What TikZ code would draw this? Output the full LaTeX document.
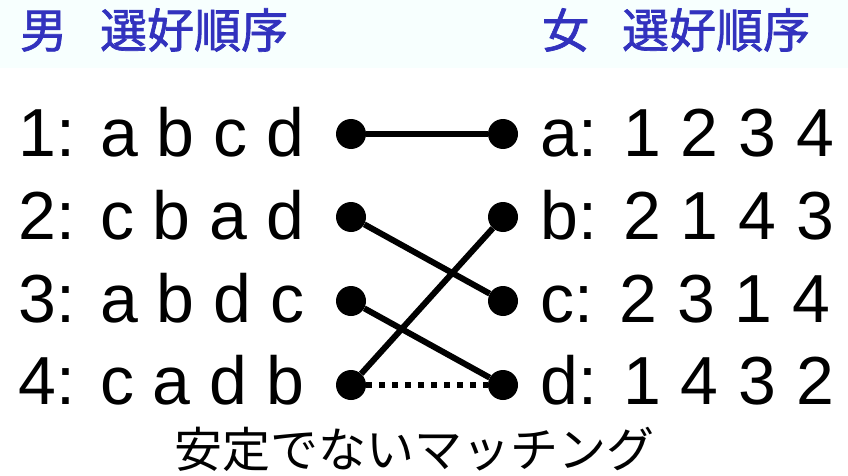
\documentclass[tikz,border=0pt]{standalone}
\usepackage{fontspec}
\setmainfont{Liberation Sans}
\newfontfamily\jpfont{Noto Sans CJK JP}
\newfontfamily\jphdrfont[FakeBold=1.5]{Noto Sans CJK JP}
\definecolor{hdrbg}{RGB}{247,255,254}
\definecolor{hdrblue}{RGB}{50,50,190}
\newcommand\widewordspace{\spaceskip 20pt\relax}
\begin{document}
\begin{tikzpicture}[x=1pt,y=-1pt,
  hdr/.style={anchor=west,inner sep=0pt,text=hdrblue,font=\jphdrfont\fontsize{47}{47}\selectfont},
  leftlist/.style={anchor=base west,inner sep=0pt,font=\fontsize{68}{68}\selectfont},
  rightlist/.style={anchor=base west,inner sep=0pt,font={\fontsize{68}{68}\selectfont\widewordspace}},
  caption/.style={inner sep=0pt,font=\jpfont\fontsize{48}{48}\selectfont},
  dotnode/.style={circle,fill=black,draw=none,inner sep=0pt,minimum size=30pt},
  match/.style={line width=6pt},
  nomatch/.style={line width=5.5pt,dash pattern=on 6pt off 7pt}]
\useasboundingbox (0,0) rectangle (848,476);
\fill[hdrbg] (0,0) rectangle (848,68);
% headers
\node[hdr] (hm) at (20,30) {男\hspace{0.7em}選好順序};
\node[hdr] (hw) at (542,30) {女\hspace{0.7em}選好順序};
% left lists
\node[leftlist] (l1) at (18,156) {1: a b c d};
\node[leftlist] (l2) at (18,239) {2: c b a d};
\node[leftlist] (l3) at (18,322) {3: a b d c};
\node[leftlist] (l4) at (18,404) {4: c a d b};
% right lists
\node[rightlist] (r1) at (540,156) {a: 1 2 3 4};
\node[rightlist] (r2) at (540,239) {b: 2 1 4 3};
\node[rightlist] (r3) at (540,322) {c: 2 3 1 4};
\node[rightlist] (r4) at (540,404) {d: 1 4 3 2};
% dots
\node[dotnode] (m1) at (351,134) {};
\node[dotnode] (m2) at (351,217) {};
\node[dotnode] (m3) at (351,301) {};
\node[dotnode] (m4) at (351,385) {};
\node[dotnode] (wa) at (503,134) {};
\node[dotnode] (wb) at (503,217) {};
\node[dotnode] (wc) at (503,301) {};
\node[dotnode] (wd) at (503,385) {};
% matching
\draw[match] (m1) -- (wa);
\draw[match] (m2) -- (wc);
\draw[match] (m3) -- (wd);
\draw[match] (m4) -- (wb);
\draw[nomatch] (m4) -- (wd);
% caption
\node[caption] (cap) at (414,449) {安定でないマッチング};
\end{tikzpicture}
\end{document}
